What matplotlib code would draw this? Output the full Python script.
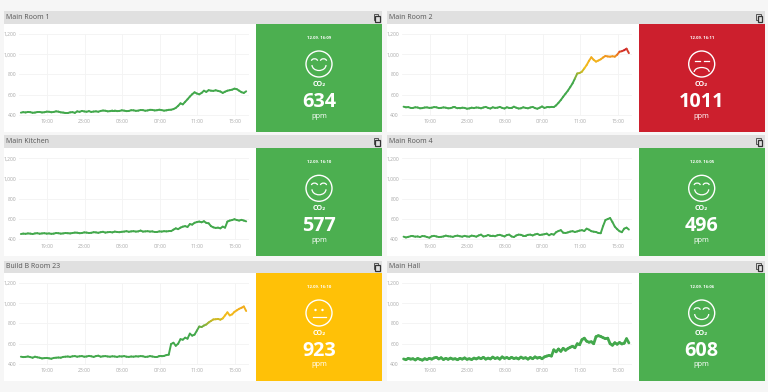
import numpy as np
import matplotlib
matplotlib.use("Agg")
import matplotlib.pyplot as plt
from matplotlib.collections import LineCollection
from matplotlib.colors import LinearSegmentedColormap
from matplotlib.patches import Rectangle, Circle, Arc

plt.rcParams['font.family'] = ['Open Sans', 'DejaVu Sans']

titles = ["Main Room 1", "Main Room 2", "Main Kitchen", "Main Room 4", "Build B Room 23", "Main Hall"]
stamps = ["12.09. 16:09", "12.09. 16:11", "12.09. 16:10", "12.09. 16:05", "12.09. 16:10", "12.09. 16:06"]
readings = ["634", "1011", "577", "496", "923", "608"]
moods = ["good", "bad", "good", "good", "fair", "good"]
y_ticks = [400, 600, 800, 1000, 1200]
y_labels = ["400", "600", "800", "1,000", "1,200"]
x_ticks = [2.8, 6.8, 10.8, 14.8, 18.8, 22.8]
x_labels = ["19:00", "23:00", "03:00", "07:00", "11:00", "15:00"]

room1 = [423,428,425,430,428,422,424,429,430,425,427,433,432,427,430,436,433,426,424,420,420,426,428,421,
         436,431,440,435,432,438,430,434,436,432,440,444,442,436,438,444,444,438,440,446,443,438,440,447,
         446,441,443,449,448,442,445,451,450,445,447,452,448,443,446,451,452,458,470,490,515,505,530,555,
         582,605,624,612,604,618,640,628,645,640,638,644,638,632,618,630,640,645,650,660,655,640,625,618,634]
room2 = [482,476,478,470,470,476,474,466,468,474,475,470,472,478,476,468,470,475,472,466,468,474,474,466,
         466,472,470,462,465,472,468,474,472,466,474,480,470,464,476,470,472,480,470,464,476,470,470,482,
         472,464,466,476,470,466,474,480,468,462,472,484,470,476,476,480,478,495,520,548,580,610,640,675,
         712,760,810,815,828,860,893,935,970,945,927,938,950,968,983,978,976,980,976,995,1025,1030,1040,1055,1011]
kitchen = [452,456,454,458,456,452,458,460,455,458,460,456,458,454,456,462,460,456,458,462,460,458,462,466,
           465,460,462,468,466,462,464,470,468,464,470,474,466,470,472,468,476,472,470,474,476,480,474,478,
           480,476,478,486,476,478,480,476,478,472,472,478,476,480,478,480,480,495,508,500,515,525,530,522,
           550,545,563,570,575,568,578,562,558,530,518,512,515,508,525,515,575,585,590,598,590,585,592,585,577,
           ]
room4 = [426,418,424,430,430,426,428,422,432,430,422,416,430,434,428,422,424,428,436,430,428,424,432,436,
         430,426,434,428,426,436,432,426,438,446,428,432,442,436,436,430,440,444,436,428,442,446,428,422,
         438,446,444,436,436,444,446,438,448,454,442,446,450,456,440,452,446,470,482,490,465,462,468,476,
         480,472,478,486,490,482,505,495,480,475,472,462,460,530,590,600,610,570,525,500,480,470,505,515,496]
buildb = [472,468,470,474,468,462,472,466,462,455,458,460,456,452,460,462,464,462,470,472,474,470,476,478,
          472,476,478,472,474,480,476,470,478,482,472,476,478,474,472,476,474,470,476,474,478,472,470,474,
          472,476,474,478,476,470,472,478,474,470,470,476,476,480,488,492,597,610,580,600,645,640,660,650,
          700,680,690,730,770,765,780,790,810,825,840,842,845,838,850,880,910,880,890,915,930,945,955,968,923]
hall = [450,442,456,448,452,440,455,446,438,452,444,456,448,460,466,450,462,444,456,446,458,448,452,442,
        456,448,460,446,452,444,458,450,462,452,466,448,458,450,468,454,462,448,470,456,464,452,466,454,
        460,450,468,456,462,448,464,452,470,458,466,452,470,478,485,478,540,520,548,525,555,535,552,565,
        575,560,600,590,640,655,625,615,620,600,670,680,672,660,650,655,600,585,610,595,612,598,605,650,608]
series = [room1, room2, kitchen, room4, buildb, hall]
widths = [1.4, 1.4, 1.4, 1.4, 1.4, 2.0]

W, H = 768, 392
col_dx = [0, 382.7]
row_dy = [0, 124.3, 249]
colors = {"good": "#4CAF50", "bad": "#CC1F2D", "fair": "#FFC107"}
cmap = LinearSegmentedColormap.from_list("co2", [(0, "#43A84C"), (0.52, "#43A84C"), (0.72, "#F2BE1A"),
                                                 (0.85, "#F2B01C"), (0.93, "#EE7F20"), (1, "#CC1F2D")])

fig = plt.figure(figsize=(W / 100, H / 100), dpi=100, facecolor="#F6F6F6")
ov = fig.add_axes([0, 0, 1, 1], zorder=0)
ov.set_xlim(0, W); ov.set_ylim(H, 0); ov.axis("off")
top = fig.add_axes([0, 0, 1, 1], zorder=5)
top.set_xlim(0, W); top.set_ylim(H, 0); top.axis("off"); top.patch.set_alpha(0)


def face(cx, cy, mood):
    r = 13
    top.add_patch(Circle((cx, cy), r, fill=False, ec="white", lw=1.0))
    if mood == "good":
        for s in (-1, 1):
            top.add_patch(Arc((cx + s * 4.5, cy - 3.2), 6, 4, theta1=180, theta2=360, ec="white", lw=0.9))
        top.add_patch(Arc((cx, cy + 1), 14, 11, theta1=0, theta2=180, ec="white", lw=0.9))
    elif mood == "bad":
        for s in (-1, 1):
            top.plot([cx + s * 2, cx + s * 7], [cy - 3.2, cy - 3.2], color="white", lw=0.9)
        top.add_patch(Arc((cx, cy + 8), 15, 9, theta1=180, theta2=360, ec="white", lw=0.9))
    else:
        for s in (-1, 1):
            top.add_patch(Circle((cx + s * 3.5, cy - 3), 1.2, fc="white", ec="none"))
        top.plot([cx - 6.5, cx + 6.5], [cy + 4, cy + 4], color="white", lw=0.9)


def copy_icon(cx, cy):
    top.add_patch(Rectangle((cx - 2.5, cy - 3.5), 4.5, 6, fill=False, ec="#555555", lw=0.7))
    top.add_patch(Rectangle((cx - 1, cy - 2), 4.5, 6, fc="#E0E0E0", ec="#333333", lw=0.9))


for i, vals in enumerate(series):
    dx = col_dx[i % 2]
    dy = row_dy[i // 2]
    hdr_top = 11 + dy + (0.8 if i // 2 == 2 else 0)
    ov.add_patch(Rectangle((4 + dx, hdr_top), 378, 24 + dy - hdr_top, fc="#E0E0E0", ec="none"))
    ov.add_patch(Rectangle((4 + dx, 24 + dy), 252, 107.5, fc="white", ec="none"))
    ov.add_patch(Rectangle((256 + dx, 24 + dy), 126, 107.5, fc=colors[moods[i]], ec="none"))
    ov.text(6 + dx, 17.5 + dy, titles[i], fontsize=5.0, color="#555555", va="center", ha="left")
    copy_icon(376 + dx, 17.5 + dy)

    # plot axes: 1,200 at pixel 34, 400 at pixel 115
    l, r, t, b = 19 + dx, 249 + dx, 34 + dy, 116 + dy
    ax = fig.add_axes([l / W, 1 - b / H, (r - l) / W, (b - t) / H], zorder=2)
    ax.patch.set_alpha(0)
    ax.set_xlim(-0.2, 24.3)
    ax.set_ylim(390, 1200)
    ax.set_xticks(x_ticks, x_labels)
    ax.set_yticks(y_ticks, y_labels)
    ax.grid(True, color="#F3F3F3", lw=0.6)
    ax.set_axisbelow(True)
    ax.tick_params(length=0, labelsize=3.6, labelcolor="#A8A8A8", pad=2.5)
    ax.tick_params(axis="y", pad=2)
    for s in ax.spines.values():
        s.set_visible(False)
    x = np.linspace(0, 24, len(vals))
    y = np.array(vals, float)
    pts = np.column_stack([x, y]).reshape(-1, 1, 2)
    segs = np.concatenate([pts[:-1], pts[1:]], axis=1)
    lc = LineCollection(segs, cmap=cmap, norm=plt.Normalize(400, 1050), linewidths=widths[i], capstyle="round")
    lc.set_array((y[:-1] + y[1:]) / 2)
    lc.set_clip_on(False)
    ax.add_collection(lc)

    cx = 319 + dx
    top.text(cx, 38 + dy, stamps[i], fontsize=3.1, fontweight="bold", color="white", ha="center", va="center")
    face(cx, 64 + dy, moods[i])
    top.text(cx, 84.5 + dy, "CO₂", fontsize=5.2, fontweight="bold", color="white", ha="center", va="center")
    top.text(cx, 102 + dy, readings[i], fontsize=14.2, fontweight="bold", color="white", ha="center", va="center")
    top.text(cx, 116 + dy, "ppm", fontsize=5.4, color="white", ha="center", va="center")

fig.savefig("out.png", dpi=100, facecolor=fig.get_facecolor())
